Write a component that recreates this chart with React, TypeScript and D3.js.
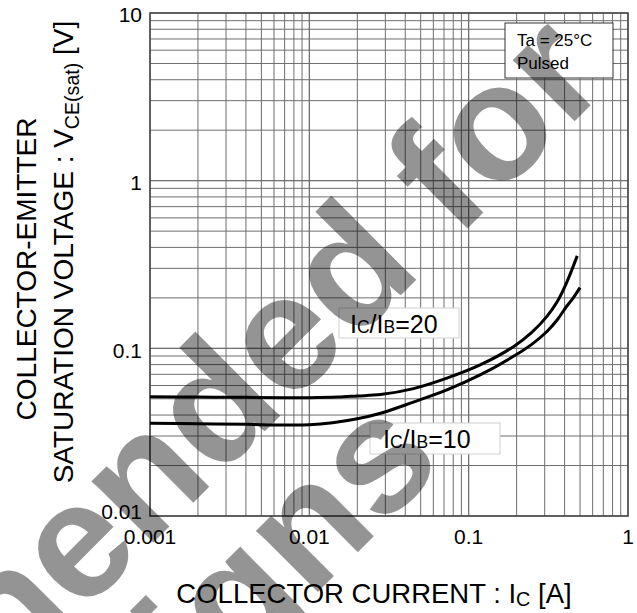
import * as d3 from "d3"
import React from "react"

// collector current [A] and V_CE(sat) [V]
const icRatio20 = [0.001, 0.002, 0.004, 0.007, 0.01, 0.015, 0.02, 0.028, 0.045, 0.073, 0.118, 0.19, 0.25, 0.31, 0.36, 0.41, 0.48]
const vce20 = [0.0515, 0.0512, 0.051, 0.0508, 0.0508, 0.0512, 0.052, 0.053, 0.0575, 0.0664, 0.0796, 0.102, 0.125, 0.155, 0.19, 0.244, 0.356]

const icRatio10 = [0.001, 0.002, 0.004, 0.007, 0.01, 0.014, 0.02, 0.028, 0.045, 0.073, 0.118, 0.19, 0.25, 0.31, 0.36, 0.41, 0.45, 0.5]
const vce10 = [0.0357, 0.0355, 0.0352, 0.0349, 0.035, 0.036, 0.038, 0.041, 0.0478, 0.0565, 0.0694, 0.0893, 0.106, 0.126, 0.148, 0.177, 0.198, 0.23]

const xTicks = [0.001, 0.01, 0.1, 1]
const xTickLabels = ["0.001", "0.01", "0.1", "1"]
const yTicks = [0.01, 0.1, 1, 10]
const yTickLabels = ["0.01", "0.1", "1", "10"]

const width = 637,
  height = 613
const margin = { left: 150, right: 9, top: 13, bottom: 97 }
const font = "'Liberation Sans', Arial, sans-serif"

function minorValues(lo: number, hi: number) {
  const out: number[] = []
  for (let dec = lo; dec < hi; dec *= 10) {
    for (let k = 1; k <= 10; k++) out.push(+(dec * k).toPrecision(3))
  }
  return out
}

function App() {
  const x = d3
    .scaleLog()
    .domain([0.001, 1])
    .range([margin.left, width - margin.right])
  const y = d3
    .scaleLog()
    .domain([0.01, 10])
    .range([height - margin.bottom, margin.top])

  const line = d3
    .line<[number, number]>()
    .x((d) => x(d[0]))
    .y((d) => y(d[1]))
    .curve(d3.curveCatmullRom.alpha(0.5))

  const s20 = icRatio20.map((v, i) => [v, vce20[i]] as [number, number])
  const s10 = icRatio10.map((v, i) => [v, vce10[i]] as [number, number])

  const gx = minorValues(0.001, 1)
  const gy = minorValues(0.01, 10)
  const [x0, x1] = x.range()
  const [y0, y1] = y.range()

  return (
    <svg
      width={width}
      height={height}
      style={{ position: "absolute", left: 0, top: 0, background: "#fff" }}
      fontFamily={font}
    >
      <g stroke="#6e6e6e" strokeWidth={1}>
        {gx.map((v, i) => (
          <line key={"gx" + i} x1={x(v)} x2={x(v)} y1={y1} y2={y0} />
        ))}
        {gy.map((v, i) => (
          <line key={"gy" + i} x1={x0} x2={x1} y1={y(v)} y2={y(v)} />
        ))}
      </g>
      <rect x={x0} y={y1} width={x1 - x0} height={y0 - y1} fill="none" stroke="#444" strokeWidth={1.5} />

      <path d={line(s20)} fill="none" stroke="#000" strokeWidth={3} />
      <path d={line(s10)} fill="none" stroke="#000" strokeWidth={3} />

      {/* tick labels */}
      <g fontSize={21} fill="#000">
        {xTicks.map((v, i) => (
          <text key={"xt" + i} x={x(v)} y={y0 + 28} textAnchor="middle">
            {xTickLabels[i]}
          </text>
        ))}
        {yTicks.map((v, i) => (
          <text key={"yt" + i} x={x0 - 8} y={y(v) + (v === 0.01 ? -4 : 2)} dy="0.35em" textAnchor="end">
            {yTickLabels[i]}
          </text>
        ))}
      </g>

      {/* axis titles */}
      <text x={374} y={603} fontSize={27.5} textAnchor="middle">
        COLLECTOR CURRENT : I<tspan fontSize="0.72em" dy="3">C</tspan>
        <tspan dy="-3"> [A]</tspan>
      </text>
      <text transform="translate(36,269) rotate(-90)" fontSize={28} textAnchor="middle">
        COLLECTOR-EMITTER
      </text>
      <text transform="translate(73,252) rotate(-90)" fontSize={28} textAnchor="middle">
        SATURATION VOLTAGE : V<tspan fontSize="0.7em" dy="6">CE(sat)</tspan>
        <tspan dy="-6"> [V]</tspan>
      </text>

      {/* conditions box */}
      <rect x={505} y={23} width={108} height={55} fill="#fff" stroke="#333" strokeWidth={1} />
      <text x={517} y={46} fontSize={17}>
        Ta = 25°C
      </text>
      <text x={517} y={69} fontSize={17}>
        Pulsed
      </text>

      {/* curve labels */}
      <rect x={339} y={308} width={120} height={30} fill="#fff" stroke="#d0d0d0" strokeWidth={1} />
      <text x={350} y={333} fontSize={25}>
        I<tspan fontSize="0.7em">C</tspan>/I<tspan fontSize="0.7em">B</tspan>=20
      </text>
      <rect x={370} y={423} width={130} height={31} fill="#fff" stroke="#d0d0d0" strokeWidth={1} />
      <text x={383} y={448} fontSize={25}>
        I<tspan fontSize="0.7em">C</tspan>/I<tspan fontSize="0.7em">B</tspan>=10
      </text>

      {/* watermark */}
      <g fontSize={165} fontWeight="bold" fill="#000" fillOpacity={0.42} textAnchor="end">
        <text transform="translate(612,84) rotate(-45)">Not recommended for</text>
        <text transform="translate(446,464) rotate(-45)">new designs</text>
      </g>
    </svg>
  )
}

export default App
